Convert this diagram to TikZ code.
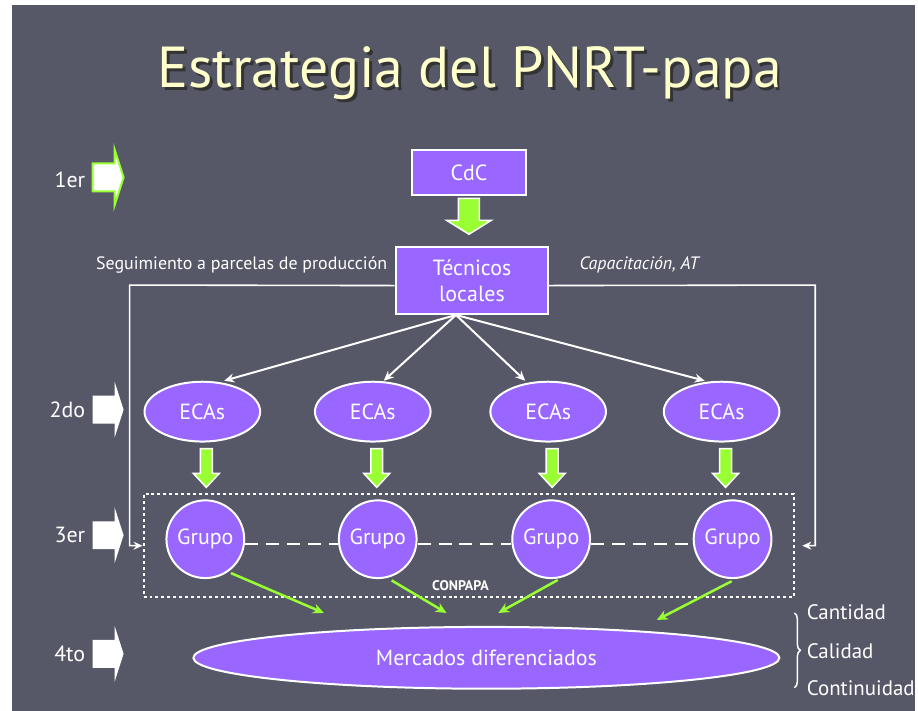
\documentclass[tikz,border=0pt]{standalone}
\usepackage{fontspec}
\setmainfont{PT Sans}
\usepackage{tikz}
\usetikzlibrary{shapes.geometric,arrows.meta,decorations.pathreplacing}

\tikzset{
  steparrow/.pic={\path[pic actions] (0,-14) -- (22,-14) -- (22,-28) -- (31,0) -- (22,28) -- (22,14) -- (0,14) -- cycle;},
  fatdown/.pic={\path[pic actions] (-6,0) -- (6,0) -- (6,25) -- (13,25) -- (0,39) -- (-13,25) -- (-6,25) -- cycle;}
}

\begin{document}
\begin{tikzpicture}[x=1pt,y=-1pt]
    % colores
    \definecolor{slidebg}{RGB}{86, 88, 104}
    \definecolor{boxpurple}{RGB}{153, 102, 255}
    \definecolor{limegreen}{RGB}{153, 255, 51}
    \definecolor{titleyellow}{RGB}{255, 255, 204}

    \tikzset{
      txt/.style={text=white, font=\fontsize{22}{26}\selectfont},
      smalltxt/.style={text=white, font=\fontsize{18}{21}\selectfont},
      purplebox/.style={txt, draw=white, line width=2pt, fill=boxpurple},
      eca/.style={purplebox, ellipse, minimum width=116, minimum height=60, inner sep=0pt},
      grupo/.style={purplebox, circle, minimum size=78, inner sep=0pt},
      fan/.style={draw=white, line width=2pt, -{Stealth[length=10pt,width=9pt]}},
      link/.style={draw=white, line width=1.6pt, -{Stealth[length=9pt,width=8pt]}},
      greenarrow/.style={draw=limegreen, line width=2.5pt, -{Stealth[length=11pt,width=10pt]}},
      greenblock/.style={fill=limegreen, draw=white, line width=1.5pt}
    }

    % fondo
    \fill[white] (0,0) rectangle (918,713);
    \fill[slidebg] (12,5) rectangle (918,713);

    % titulo (con sombra)
    \node[font=\fontsize{58}{62}\selectfont] (title) at (471,75)
      {\makebox[0pt][l]{\hspace{3pt}\raisebox{-3pt}{\textcolor{black!80}{Estrategia del PNRT-papa}}}\textcolor{titleyellow}{Estrategia del PNRT-papa}};

    % etapas
    \node[txt, anchor=east] (l1) at (89,180) {1er};
    \pic[fill=white, draw=limegreen, line width=2pt] at (93,178) {steparrow};
    \foreach \lbl/\yy in {2do/411, 3er/537, 4to/656} {
      \node[txt, anchor=east] (l\lbl) at (89,\yy) {\lbl};
      \pic[fill=white] at (93,\yy) {steparrow};
    }

    % CdC y tecnicos
    \node[purplebox, minimum width=115, minimum height=45] (cdc) at (470.5,173) {CdC};
    \node[purplebox, minimum width=153, minimum height=67, align=center, inner sep=2pt] (tec) at (473.5,281.5) {Técnicos\\locales};
    \path[greenblock] (460,199) -- (481,199) -- (481,221) -- (493,221) -- (470.5,235) -- (448,221) -- (460,221) -- cycle;

    \node[smalltxt, anchor=east] (seg) at (392,266) {Seguimiento a parcelas de producción};
    \node[smalltxt, anchor=west, font=\fontsize{18}{21}\selectfont\itshape] (cap) at (578,266) {Capacitación, AT};

    % recuadro CONPAPA
    \node[draw=white, line width=2pt, dash pattern=on 3pt off 3pt, minimum width=653, minimum height=103, inner sep=0pt] (box) at (470.5,547.5) {};
    \node[text=white, font=\fontsize{14}{16}\selectfont\bfseries] (conpapa) at (462,588) {CONPAPA};

    % ECAs y grupos
    \foreach \i/\ex/\gx in {1/203/206, 2/374/379, 3/550/553, 4/724/735} {
      \node[eca] (e\i) at (\ex,413) {ECAs};
      \node[grupo] (g\i) at (\gx,541) {Grupo};
      \pic[greenblock] at ([xshift=4pt,yshift=-6pt]e\i.south) {fatdown};
    }
    \foreach \i/\dx in {1/22, 2/11, 3/-23, 4/-17}
      \draw[fan] ([xshift=-16pt]tec.south) -- ([xshift=\dx pt]e\i.north);

    \draw[white, line width=2pt, dash pattern=on 13pt off 8pt] ([yshift=-5pt]g1.east) -- ([yshift=-5pt]g2.west) ([yshift=-5pt]g2.east) -- ([yshift=-5pt]g3.west) ([yshift=-5pt]g3.east) -- ([yshift=-5pt]g4.west);

    % seguimiento y capacitacion
    \draw[link] ([yshift=-5pt]tec.west) -- (130,286) |- (box.west);
    \draw[link] ([yshift=-5pt]tec.east) -- (818,286) |- ([xshift=7pt]box.east);

    % mercados
    \node[purplebox, ellipse, minimum width=588, minimum height=62, inner sep=0pt] (merc) at (488,660) {Mercados diferenciados};
    \coordinate (m1) at (325,615);
    \coordinate (m2) at (448,615);
    \coordinate (m3) at (500,615);
    \coordinate (m4) at (659,622);
    \draw[greenarrow, shorten <=3pt] (g1.-55) -- (m1);
    \draw[greenarrow, shorten <=5pt] (g2.-76) -- (m2);
    \draw[greenarrow, shorten <=5pt] (g3.-74) -- (m3);
    \draw[greenarrow, shorten <=5pt] (g4.-85) -- (m4);

    % cantidad, calidad, continuidad
    \draw[white, line width=1.5pt, decorate, decoration={brace, amplitude=6pt}] (797,615) -- (797,690);
    \node[txt, anchor=west, font=\fontsize{21}{24}\selectfont] (cant) at (806,614) {Cantidad};
    \node[txt, anchor=west, font=\fontsize{21}{24}\selectfont] (cali) at (806,653) {Calidad};
    \node[txt, anchor=west, font=\fontsize{21}{24}\selectfont] (cont) at (806,690) {Continuidad};
\end{tikzpicture}
\end{document}
